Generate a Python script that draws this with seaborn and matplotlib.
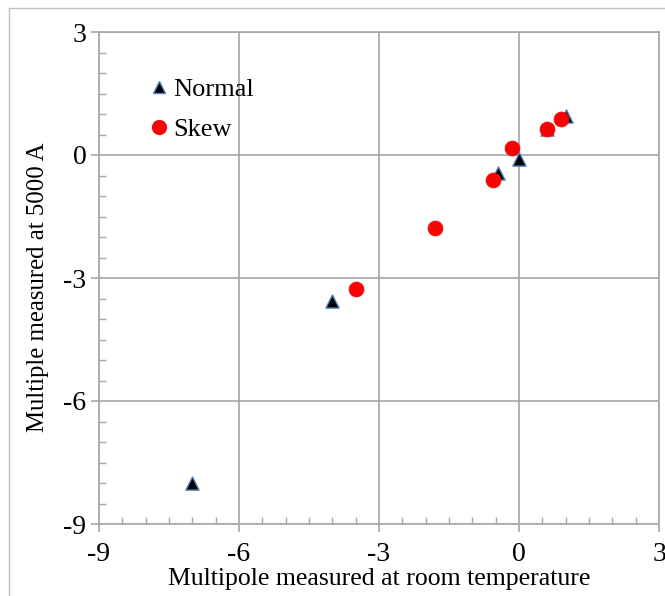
import matplotlib
matplotlib.use("Agg")
import matplotlib.pyplot as plt
import seaborn as sns
import pandas as pd
from matplotlib.lines import Line2D
from matplotlib.patches import Rectangle
from matplotlib.ticker import MultipleLocator

# Data
normal_x = [-7.0, -4.0, -0.45, 0.0, 0.6, 1.0]
normal_y = [-8.0, -3.57, -0.45, -0.1, 0.63, 0.95]
skew_x = [-3.5, -1.8, -0.55, -0.15, 0.6, 0.9]
skew_y = [-3.28, -1.77, -0.6, 0.17, 0.63, 0.88]
x_ticks = [-9, -6, -3, 0, 3]
y_ticks = [-9, -6, -3, 0, 3]
series_names = ["Normal", "Skew"]

sns.set_theme(style="white")
plt.rcParams["font.family"] = ["Liberation Serif", "DejaVu Serif"]
plt.rcParams["axes.unicode_minus"] = False
plt.rcParams["text.color"] = "black"
plt.rcParams["axes.labelcolor"] = "black"

fig = plt.figure(figsize=(6.65, 5.96), dpi=100)
ax = fig.add_axes([99 / 665, 1 - 524 / 596, 560 / 665, 492 / 596])

# outer frame
fig.patches.append(Rectangle((9 / 665, -0.05), 1.0, 1 - 8 / 596 + 0.05,
                             transform=fig.transFigure, fill=False,
                             edgecolor="#bfbfbf", linewidth=1.0))

df_n = pd.DataFrame({"x": normal_x, "y": normal_y})
df_s = pd.DataFrame({"x": skew_x, "y": skew_y})

sns.scatterplot(data=df_n, x="x", y="y", marker="^", s=90, color="black",
                edgecolor="#4f81bd", linewidth=1.0, ax=ax, zorder=3)
sns.scatterplot(data=df_s, x="x", y="y", marker="o", s=110, color="#ff0000",
                edgecolor="#e81010", linewidth=0.8, ax=ax, zorder=4)

ax.set_xlim(-9, 3)
ax.set_ylim(-9, 3)
ax.set_xticks(x_ticks)
ax.set_yticks(y_ticks)
ax.xaxis.set_minor_locator(MultipleLocator(0.5))
ax.yaxis.set_minor_locator(MultipleLocator(0.5))
ax.grid(True, which="major", color="#a6a6a6", linewidth=1.2)
ax.set_axisbelow(True)
for sp in ax.spines.values():
    sp.set_color("#a6a6a6")
    sp.set_linewidth(1.2)
ax.tick_params(which="major", direction="out", length=6, width=1.2,
               color="#a6a6a6", labelsize=20, labelcolor="black",
               bottom=True, left=True, pad=3)
ax.tick_params(axis="x", which="major", pad=7)
ax.tick_params(which="minor", direction="in", length=5, width=1.0,
               color="#a6a6a6", bottom=True, left=True)

ax.set_xlabel("Multipole measured at room temperature", fontsize=18.5,
              color="black", labelpad=1)
ax.set_ylabel("Multiple measured at 5000 A", fontsize=17.8, color="black",
              labelpad=10)
ax.yaxis.label.set_y(0.482)

handles = [
    Line2D([], [], marker="^", linestyle="none", markersize=8,
           markerfacecolor="black", markeredgecolor="#4f81bd"),
    Line2D([], [], marker="o", linestyle="none", markersize=10,
           markerfacecolor="#ff0000", markeredgecolor="#e81010"),
]
ax.legend(handles, series_names, loc="upper left",
          bbox_to_anchor=(0.065, 0.928), frameon=False, fontsize=19,
          handletextpad=0.05, handlelength=1.0, labelspacing=0.62,
          borderaxespad=0)

fig.savefig("out.png", dpi=100)
